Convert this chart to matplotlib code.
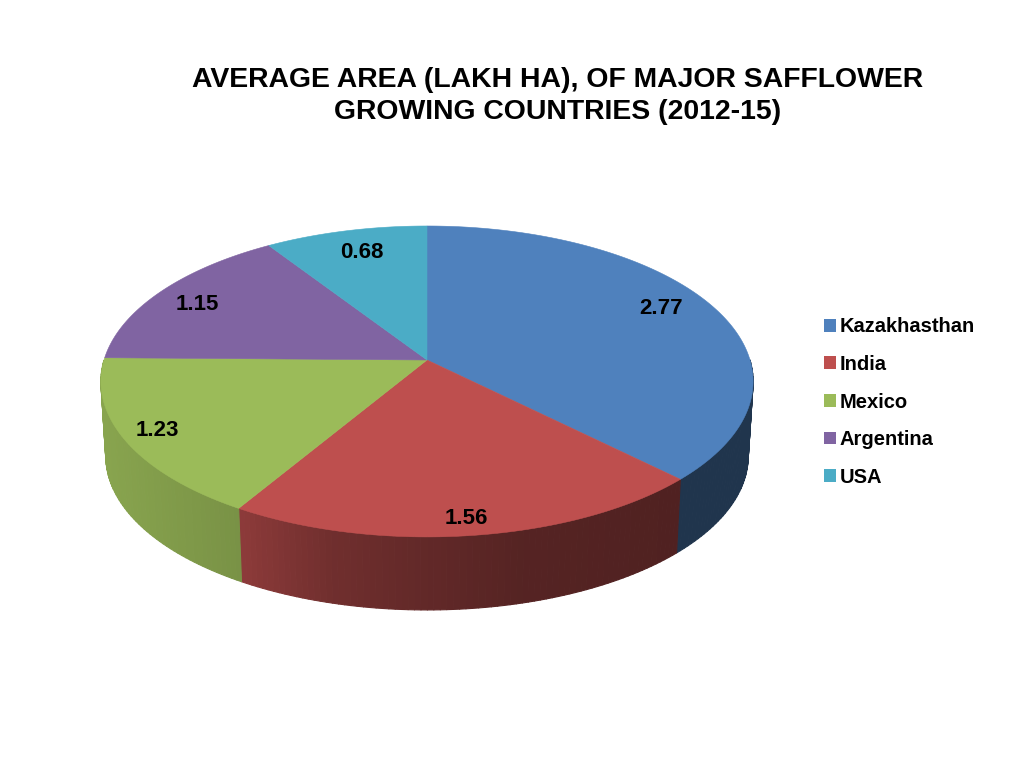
import numpy as np
import matplotlib
matplotlib.use('Agg')
import matplotlib.pyplot as plt
from matplotlib.collections import PolyCollection
from matplotlib.patches import Patch

title = 'AVERAGE AREA (LAKH HA), OF MAJOR SAFFLOWER\nGROWING COUNTRIES (2012-15)'
countries = ['Kazakhasthan', 'India', 'Mexico', 'Argentina', 'USA']
areas = [2.77, 1.56, 1.23, 1.15, 0.68]
colors = ['#4F81BD', '#BE4F4E', '#9BBB59', '#8064A2', '#4BACC6']

plt.rcParams['font.family'] = ['Liberation Sans', 'DejaVu Sans']

# pie geometry in pixels, with a little perspective
cx, cy = 427, 360
A, B, p = 323, 152.5, 0.138
depth, base_scale_x, base_scale_y = 74.8, 0.985, 0.99


def project(ang, r=1.0, base=False):
    # ang in degrees clockwise from top
    u = r * np.sin(np.radians(ang))
    v = r * np.cos(np.radians(ang))
    d = 1 + p * v
    x, y = A * u / d, -B * v / d
    if base:
        return cx + x * base_scale_x, cy + y * base_scale_y + depth
    return cx + x, cy + y


# wall shade against x position, one table per slice
wall_x = [[100, 1024], [240, 330, 420, 520, 680], [100, 240], [100, 240], [100, 240]]
wall_shade = [[0.41, 0.41], [0.74, 0.59, 0.52, 0.45, 0.42], [0.88, 0.78], [0.8, 0.8], [0.8, 0.8]]

fig = plt.figure(figsize=(10.24, 7.68), dpi=100)
ax = fig.add_axes([0, 0, 1, 1])
ax.set_xlim(0, 1024)
ax.set_ylim(768, 0)
ax.axis('off')

edges = np.concatenate([[0], np.cumsum(areas)]) / np.sum(areas) * 360

# side walls first, the back half can't be seen
for i in range(len(areas)):
    angs = np.linspace(edges[i], edges[i + 1], int(edges[i + 1] - edges[i]) + 2)
    polys, cols = [], []
    base_rgb = np.array(matplotlib.colors.to_rgb(colors[i]))
    for a0, a1 in zip(angs[:-1], angs[1:]):
        if np.cos(np.radians((a0 + a1) / 2)) > 0:
            continue
        x0, y0 = project(a0)
        x1, y1 = project(a1)
        x2, y2 = project(a1, base=True)
        x3, y3 = project(a0, base=True)
        polys.append([(x0, y0), (x1, y1), (x2, y2), (x3, y3)])
        cols.append(base_rgb * np.interp((x0 + x1) / 2, wall_x[i], wall_shade[i]))
    if polys:
        ax.add_collection(PolyCollection(polys, facecolors=cols, edgecolors=cols, linewidths=0.8, zorder=1))

# top face
for i in range(len(areas)):
    angs = np.linspace(edges[i], edges[i + 1], 200)
    xs, ys = project(angs)
    ax.fill(np.r_[cx, xs], np.r_[cy, ys], facecolor=colors[i], edgecolor=colors[i], linewidth=0.4, zorder=2)

label_x = [661, 466, 157, 197, 362]
label_y = [308, 518, 431, 304, 253]
for lx, ly, val in zip(label_x, label_y, areas):
    ax.text(lx, ly, '%.2f' % val, ha='center', va='center', fontsize=16, fontweight='bold', color='black', zorder=3)

ax.text(557.5, 96, title, ha='center', va='center', fontsize=20.4, fontweight='bold', color='black', linespacing=1.33)

handles = [Patch(facecolor=c, edgecolor='none', label=n) for c, n in zip(colors, countries)]
ax.legend(handles=handles, loc='center left', bbox_to_anchor=(816 / 1024, 1 - 402 / 768), frameon=False,
          prop={'size': 14.5, 'weight': 'bold'}, handlelength=0.6, handleheight=0.6,
          handletextpad=0.17, labelspacing=0.92, borderpad=0, borderaxespad=0.4)

fig.savefig('out.png', dpi=100)
